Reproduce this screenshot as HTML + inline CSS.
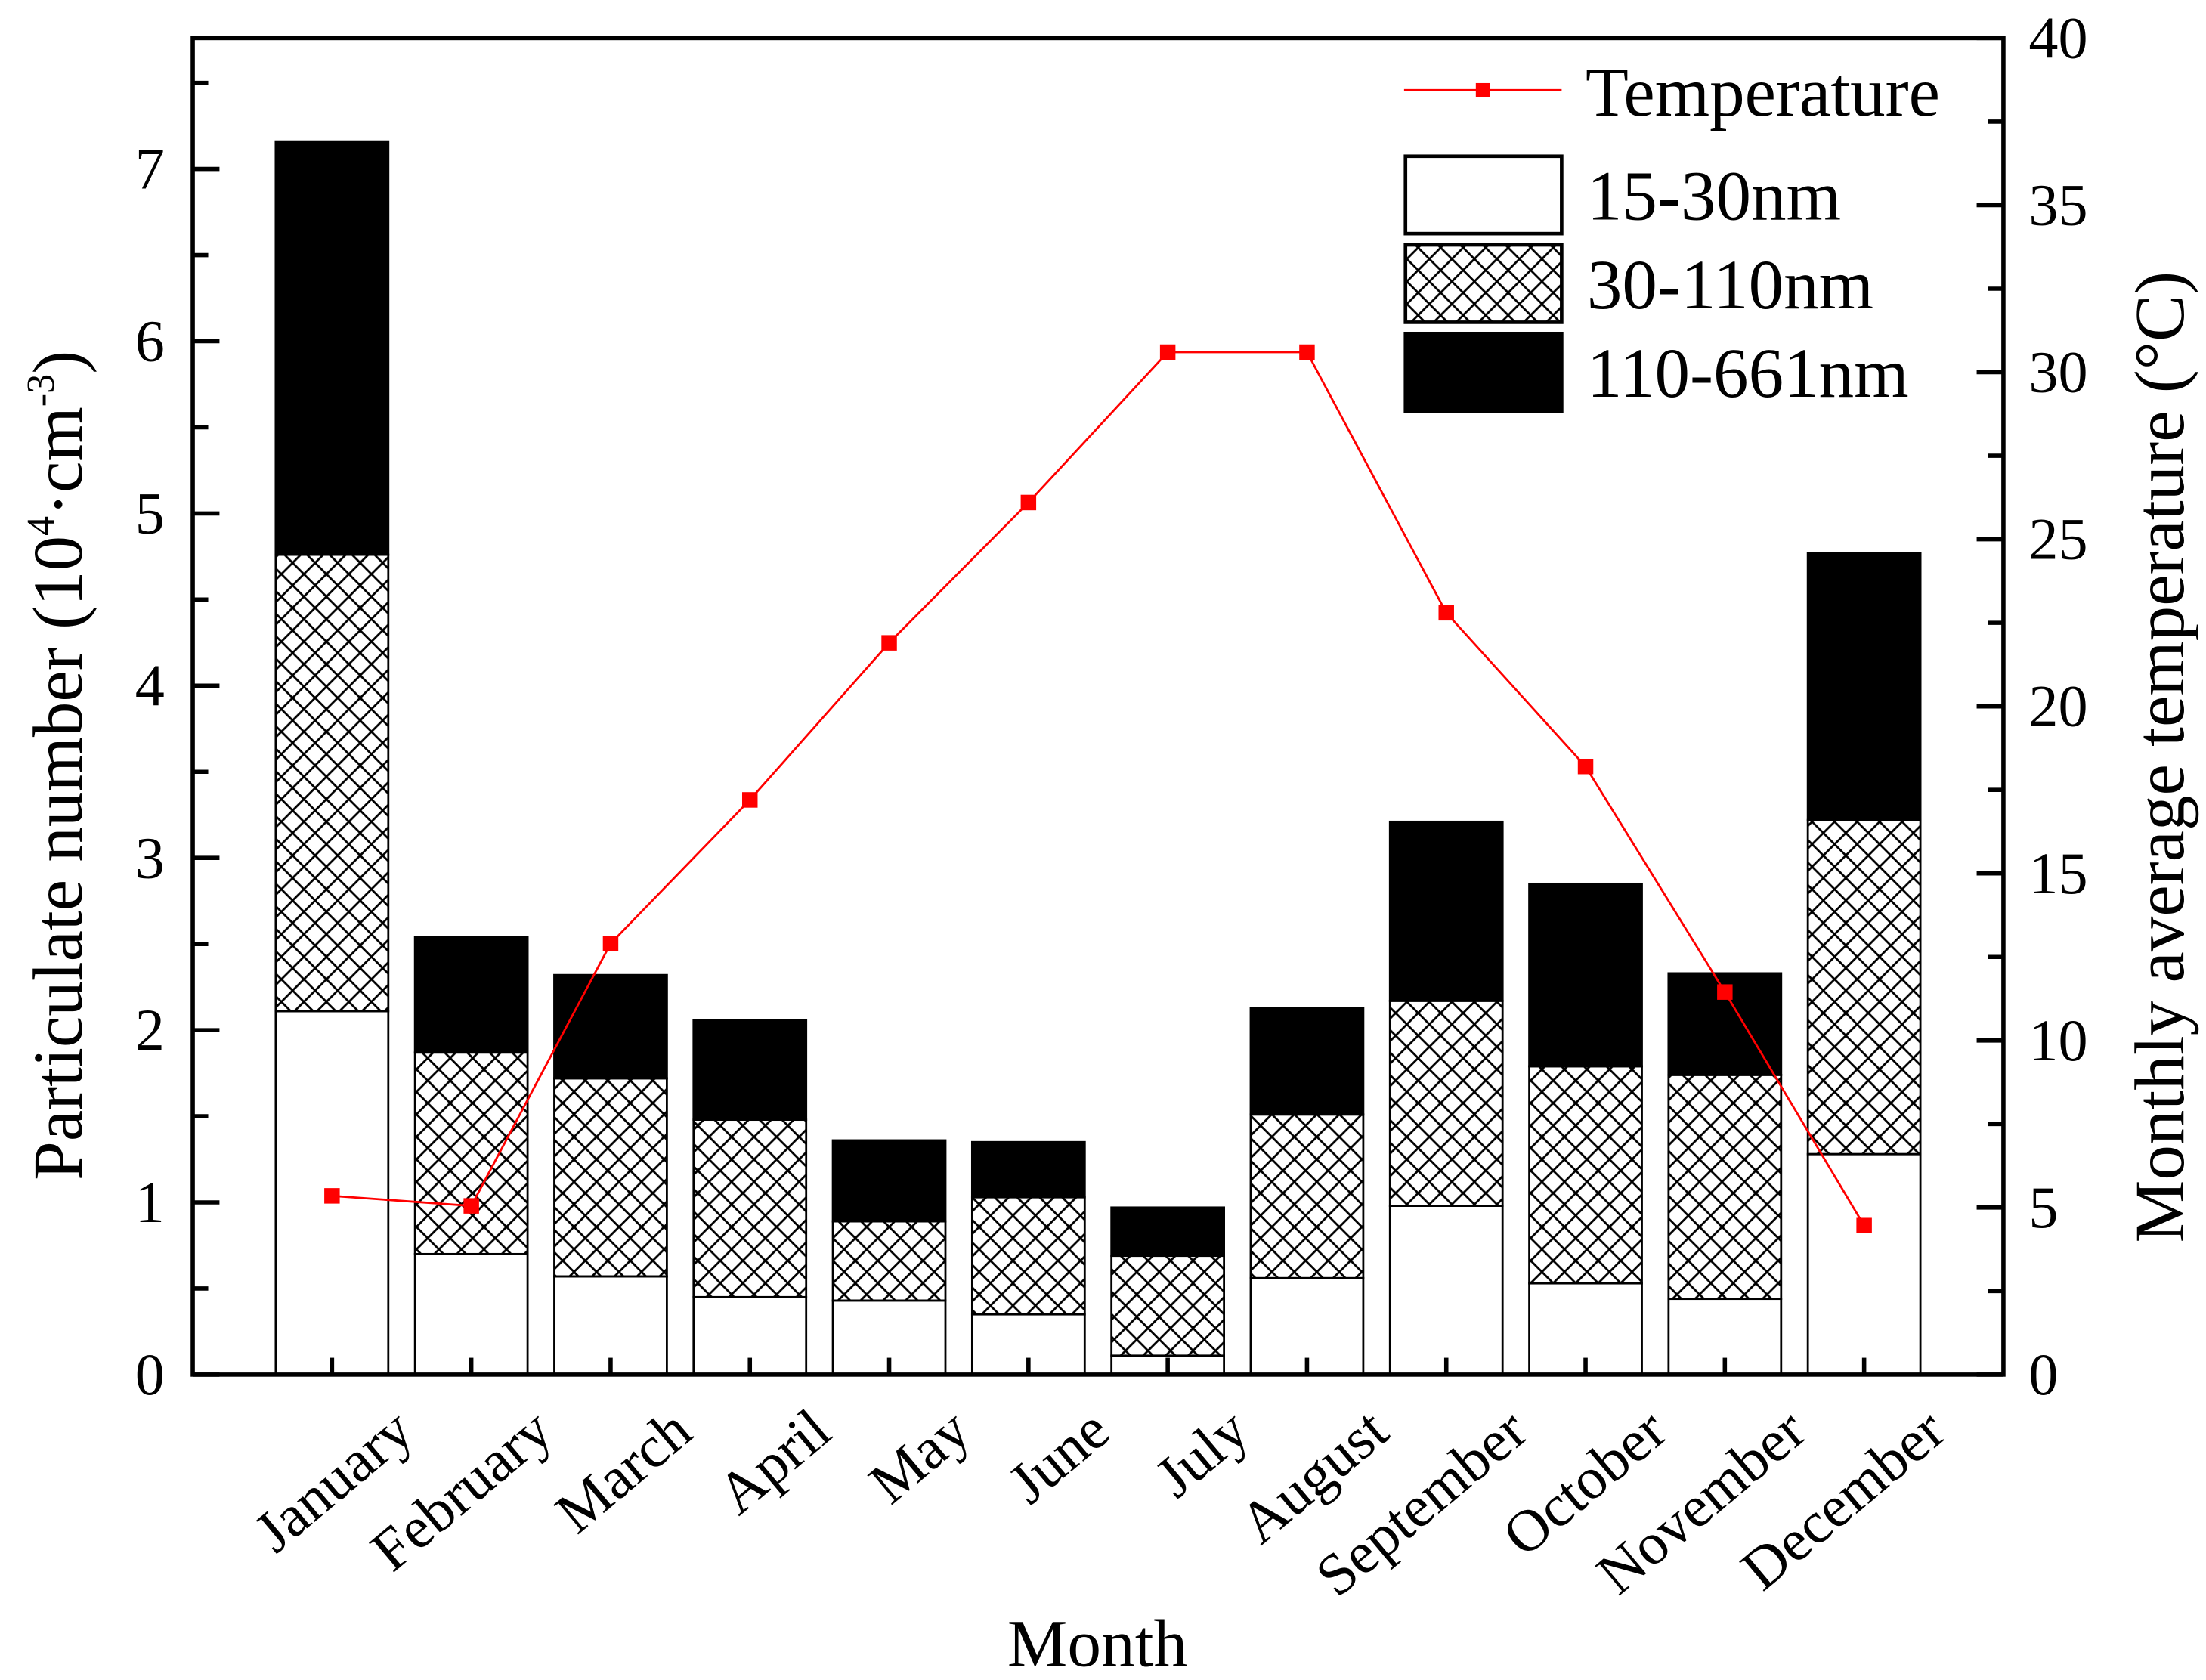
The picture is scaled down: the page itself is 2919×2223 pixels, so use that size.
<!DOCTYPE html>
<html><head><meta charset="utf-8"><style>
html,body{margin:0;padding:0;background:#fff;}
svg{display:block;font-family:"Liberation Serif",serif;}
</style></head><body>
<svg id="chart" width="2919" height="2223" viewBox="0 0 1568 1194" xmlns="http://www.w3.org/2000/svg">
<defs>
<pattern id="hatch" patternUnits="userSpaceOnUse" width="16" height="16">
<path d="M0,0L16,16M16,0L0,16" stroke="#000" stroke-width="1.5" fill="none"/>
</pattern>
</defs>
<g id="marks"></g>
<g id="axes"></g>
</svg>
<script>
const months=["January","February","March","April","May","June","July","August","September","October","November","December"];
const small=[2.11,0.70,0.57,0.45,0.43,0.35,0.11,0.56,0.98,0.53,0.44,1.28];
const medium=[2.65,1.17,1.15,1.03,0.46,0.68,0.58,0.95,1.19,1.26,1.30,1.94];
const large=[2.40,0.67,0.60,0.58,0.47,0.32,0.28,0.62,1.04,1.06,0.59,1.55];
const temperature=[5.35,5.05,12.9,17.2,21.9,26.1,30.6,30.6,22.8,18.2,11.45,4.46];
const leftTicks=[0,1,2,3,4,5,6,7];
const rightTicks=[0,5,10,15,20,25,30,35,40];

const NS="http://www.w3.org/2000/svg";
const L=137,R=1424,T=27,B=977;
const yL=v=>B-v*(B-T)/7.76;
const yR=v=>B-v*(B-T)/40;
const xC=i=>236+i*99;
const bw=80;
function mk(tag,attrs,parent,text){const e=document.createElementNS(NS,tag);for(const k in attrs)e.setAttribute(k,attrs[k]);if(text!==undefined)e.textContent=text;parent.appendChild(e);return e;}
const marks=document.getElementById('marks'), axes=document.getElementById('axes');

months.forEach((m,i)=>{
  const x=xC(i)-bw/2;
  const b0=0,b1=small[i],b2=small[i]+medium[i],b3=b2+large[i];
  let r=mk('rect',{x:x,y:yL(b1),width:bw,height:yL(b0)-yL(b1),fill:'#fff',stroke:'#000','stroke-width':1.5},marks);
  
  
  r=mk('rect',{x:x,y:yL(b2),width:bw,height:yL(b1)-yL(b2),fill:'url(#hatch)',stroke:'#000','stroke-width':1.5},marks);
  
  
  r=mk('rect',{x:x,y:yL(b3),width:bw,height:yL(b2)-yL(b3),fill:'#000',stroke:'#000','stroke-width':1.5},marks);
  
  
});
const pts=temperature.map((t,i)=>xC(i)+','+yR(t)).join(' ');
const line=mk('polyline',{points:pts,fill:'none',stroke:'#f00','stroke-width':1.5},marks);


temperature.forEach((t,i)=>{
  const p=mk('rect',{x:xC(i)-5.5,y:yR(t)-5.5,width:11,height:11,fill:'#f00'},marks);
  
  
});

const fr=mk('rect',{x:L,y:T,width:R-L,height:B-T,fill:'none',stroke:'#000','stroke-width':3},axes);


leftTicks.forEach(v=>{
  mk('line',{x1:L,x2:L+19,y1:yL(v),y2:yL(v),stroke:'#000','stroke-width':3},axes);
  if(v<7.5) mk('line',{x1:L,x2:L+11,y1:yL(v+0.5),y2:yL(v+0.5),stroke:'#000','stroke-width':3},axes);
  const t=mk('text',{x:L-20,y:yL(v)+14,'text-anchor':'end','font-size':42},axes,String(v));
  
  
});
rightTicks.forEach(v=>{
  mk('line',{x1:R,x2:R-19,y1:yR(v),y2:yR(v),stroke:'#000','stroke-width':3},axes);
  if(v<40) mk('line',{x1:R,x2:R-11,y1:yR(v+2.5),y2:yR(v+2.5),stroke:'#000','stroke-width':3},axes);
  const t=mk('text',{x:R+18,y:yR(v)+14,'text-anchor':'start','font-size':42},axes,String(v));
  
  
});
months.forEach((m,i)=>{
  mk('line',{x1:xC(i),x2:xC(i),y1:B,y2:B-12,stroke:'#000','stroke-width':3},axes);
  const t=mk('text',{x:xC(i)+60,y:B+44,'text-anchor':'end','font-size':42,transform:`rotate(-40 ${xC(i)+60} ${B+44})`},axes,m);
  
  
});
</script>
<svg style="position:absolute;left:0;top:0" width="2919" height="2223" viewBox="0 0 1568 1194" xmlns="http://www.w3.org/2000/svg" font-family="Liberation Serif, serif">
<text x="780" y="1184" text-anchor="middle" font-size="48">Month</text>
<text transform="translate(58 544) rotate(-90)" text-anchor="middle" font-size="50">Particulate number (10<tspan font-size="28" dy="-20">4</tspan><tspan dy="20">·cm</tspan><tspan font-size="28" dy="-20">-3</tspan><tspan dy="20">)</tspan></text>
<text transform="translate(1552 538) rotate(-90)" text-anchor="middle" font-size="50">Monthly average temperature (°C)</text>
<g>
<line x1="998" x2="1110" y1="64" y2="64" stroke="#f00" stroke-width="1.5"/>
<rect x="1049" y="59" width="10" height="10" fill="#f00"/>
<text x="1127" y="82" font-size="50">Temperature</text>
<rect x="999" y="111" width="111" height="55" fill="#fff" stroke="#000" stroke-width="2.5"/>
<text x="1128" y="156" font-size="50">15-30nm</text>
<rect x="999" y="174" width="111" height="55" fill="url(#hatch)" stroke="#000" stroke-width="2.5"/>
<text x="1128" y="219" font-size="50">30-110nm</text>
<rect x="999" y="237" width="111" height="55" fill="#000" stroke="#000" stroke-width="2.5"/>
<text x="1128" y="282" font-size="50">110-661nm</text>
</g>
</svg>
</body></html>
